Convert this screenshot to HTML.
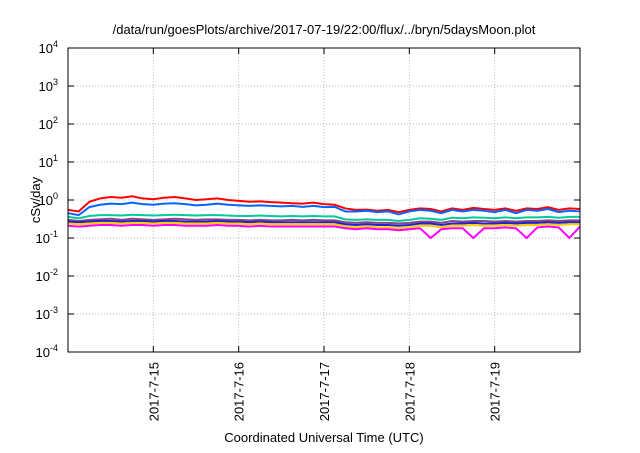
<!DOCTYPE html>
<html><head><meta charset="utf-8"><style>
body{margin:0;background:#fff}
svg{font-family:"Liberation Sans",sans-serif}
</style></head><body>
<svg id="c" width="640" height="448"></svg>
<script>
const xTicks=["2017-7-15","2017-7-16","2017-7-17","2017-7-18","2017-7-19"];
const yExps=[-4,-3,-2,-1,0,1,2,3,4];
const colors=["#ff0000","#0066ff","#00cc99","#884488","#2222cc","#ffcc00","#ff00ff"];
const sRed=[0.55,0.5,0.9,1.1,1.2,1.15,1.25,1.1,1.05,1.15,1.2,1.1,1.0,1.05,1.1,1.0,0.95,0.9,0.92,0.88,0.85,0.82,0.8,0.85,0.78,0.75,0.6,0.55,0.56,0.52,0.55,0.48,0.55,0.6,0.58,0.5,0.6,0.55,0.62,0.58,0.55,0.6,0.52,0.6,0.58,0.65,0.55,0.6,0.58];
const sBlue=[0.45,0.4,0.65,0.75,0.8,0.78,0.85,0.78,0.75,0.8,0.82,0.78,0.72,0.75,0.8,0.75,0.72,0.7,0.72,0.7,0.68,0.7,0.66,0.7,0.65,0.66,0.5,0.5,0.52,0.48,0.5,0.42,0.5,0.55,0.52,0.45,0.55,0.5,0.55,0.52,0.48,0.55,0.45,0.55,0.52,0.58,0.48,0.52,0.5];
const sGreen=[0.36,0.33,0.38,0.4,0.4,0.39,0.41,0.4,0.39,0.4,0.41,0.4,0.39,0.4,0.4,0.39,0.38,0.38,0.39,0.38,0.37,0.38,0.37,0.38,0.37,0.37,0.31,0.3,0.31,0.3,0.3,0.28,0.3,0.33,0.32,0.3,0.34,0.33,0.35,0.34,0.33,0.35,0.33,0.35,0.35,0.36,0.34,0.36,0.36];
const sPurple=[0.3,0.28,0.3,0.31,0.32,0.3,0.32,0.31,0.3,0.31,0.32,0.31,0.3,0.31,0.31,0.3,0.3,0.29,0.3,0.29,0.29,0.3,0.29,0.3,0.29,0.29,0.26,0.25,0.26,0.25,0.25,0.24,0.25,0.27,0.27,0.25,0.28,0.27,0.28,0.28,0.27,0.28,0.27,0.28,0.28,0.29,0.28,0.29,0.29];
const sDkBlue=[0.27,0.26,0.27,0.28,0.28,0.27,0.28,0.28,0.27,0.28,0.28,0.27,0.27,0.27,0.28,0.27,0.27,0.26,0.27,0.26,0.26,0.26,0.26,0.26,0.26,0.26,0.23,0.22,0.23,0.22,0.22,0.21,0.22,0.24,0.24,0.22,0.24,0.24,0.25,0.24,0.24,0.25,0.24,0.25,0.25,0.26,0.25,0.26,0.26];
const sYellow=[0.24,0.23,0.24,0.25,0.25,0.24,0.25,0.25,0.24,0.25,0.25,0.24,0.24,0.24,0.25,0.24,0.24,0.23,0.24,0.23,0.23,0.23,0.23,0.23,0.23,0.23,0.2,0.19,0.2,0.19,0.19,0.18,0.19,0.21,0.21,0.19,0.21,0.21,0.22,0.21,0.21,0.22,0.21,0.22,0.22,0.23,0.22,0.23,0.23];
const sMagenta=[0.21,0.2,0.21,0.22,0.22,0.21,0.22,0.22,0.21,0.22,0.22,0.21,0.21,0.21,0.22,0.21,0.21,0.2,0.21,0.2,0.2,0.2,0.2,0.2,0.2,0.2,0.18,0.17,0.18,0.17,0.17,0.16,0.17,0.18,0.1,0.17,0.18,0.18,0.1,0.18,0.18,0.19,0.18,0.1,0.19,0.2,0.19,0.1,0.2];
const series=[sRed,sBlue,sGreen,sPurple,sDkBlue,sYellow,sMagenta];
const L=68,R=580,T=48,B=352,days=6;
const xs=d=>L+(R-L)*d/days;
const ys=v=>B-(B-T)*(Math.log10(v)+4)/8;
const svg=document.getElementById('c');const NS="http://www.w3.org/2000/svg";
function mk(t,a,p){const e=document.createElementNS(NS,t);for(const k in a)e.setAttribute(k,a[k]);(p||svg).appendChild(e);return e;}
let t=mk('text',{x:324,y:34,'text-anchor':'middle','font-size':13});t.textContent="/data/run/goesPlots/archive/2017-07-19/22:00/flux/../bryn/5daysMoon.plot";


yExps.forEach(e=>{const y=ys(Math.pow(10,e));
 if(e>-4&&e<4)mk('line',{x1:L,x2:R,y1:y,y2:y,stroke:'#bbb','stroke-dasharray':'1,2'});
 mk('line',{x1:L,x2:L+6,y1:y,y2:y,stroke:'#000'});mk('line',{x1:R-6,x2:R,y1:y,y2:y,stroke:'#000'});
 const tx=mk('text',{x:58,y:y+5,'text-anchor':'end','font-size':13});
 
 
 tx.appendChild(document.createTextNode('10'));const ts=mk('tspan',{dy:-6,'font-size':9},tx);ts.textContent=e;});
xTicks.forEach((s,i)=>{const x=xs(i+1);
 mk('line',{x1:x,x2:x,y1:T,y2:B,stroke:'#bbb','stroke-dasharray':'1,2'});
 mk('line',{x1:x,x2:x,y1:B-6,y2:B,stroke:'#000'});mk('line',{x1:x,x2:x,y1:T,y2:T+6,stroke:'#000'});
 const tx=mk('text',{x:0,y:0,'text-anchor':'end','font-size':13,transform:`translate(${x+5},${B+10}) rotate(-90)`});tx.textContent=s;
 
 });
series.forEach((s,k)=>{const pts=s.map((v,i)=>xs(i*days/(s.length-1))+','+ys(v)).join(' ');
 const pl=mk('polyline',{points:pts,fill:'none',stroke:colors[k],'stroke-width':2});
 
 });
mk('rect',{x:L,y:T,width:R-L,height:B-T,fill:'none',stroke:'#000'});
t=mk('text',{x:0,y:0,'text-anchor':'middle','font-size':13,transform:`translate(40,200) rotate(-90)`});t.textContent="cSv/day";


t=mk('text',{x:324,y:442,'text-anchor':'middle','font-size':13});t.textContent="Coordinated Universal Time (UTC)";


</script>
</body></html>
